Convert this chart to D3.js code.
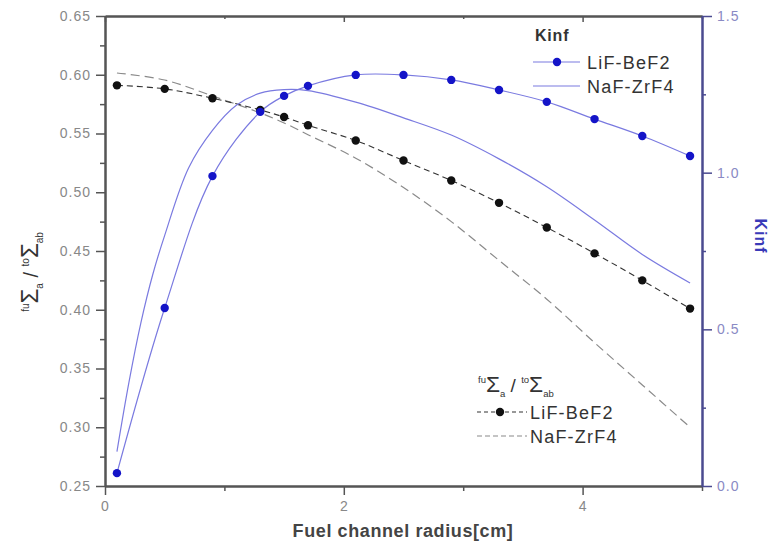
<!DOCTYPE html>
<html><head><meta charset="utf-8">
<script src="https://cdn.jsdelivr.net/npm/d3@7/dist/d3.min.js"></script>
<style>body{margin:0;background:#fff}svg{display:block}</style>
</head><body>
<svg id="c" width="771" height="557"></svg>
<script>
// ---- data ----
const radius = [0.1,0.5,0.9,1.3,1.5,1.7,2.1,2.5,2.9,3.3,3.7,4.1,4.5,4.9];
const sigmaLiF = [0.591,0.588,0.580,0.570,0.564,0.557,0.544,0.527,0.510,0.491,0.470,0.448,0.425,0.401];
const sigmaNaF = [0.6015,0.5955,0.582,0.5675,0.559,0.549,0.529,0.504,0.475,0.442,0.409,0.372,0.336,0.300];
const kinfLiF = [0.041,0.568,0.989,1.194,1.245,1.277,1.312,1.312,1.296,1.264,1.226,1.171,1.117,1.053];
const radiusNaFK = [0.1,0.2,0.3,0.4,0.5,0.7,0.9,1.1,1.3,1.5,1.7,2.1,2.5,2.9,3.3,3.7,4.1,4.5,4.9];
const kinfNaF = [0.11,0.33,0.52,0.675,0.80,1.015,1.135,1.215,1.254,1.265,1.262,1.225,1.175,1.12,1.044,0.955,0.849,0.739,0.648];
const xMajor = [0,2,4], xMinor = [1,3,5];
const yLMajor = [0.25,0.30,0.35,0.40,0.45,0.50,0.55,0.60,0.65];
const yLMinor = [0.275,0.325,0.375,0.425,0.475,0.525,0.575,0.625];
const yRMajor = [0,0.5,1.0,1.5], yRMinor = [0.25,0.75,1.25];
const seriesNames = ["LiF-BeF2","NaF-ZrF4"];

// ---- layout ----
const W=771,H=557, L=105, R=702, T=16, B=486;
const svg = d3.select("#c");
const x = d3.scaleLinear().domain([0,5]).range([L,R]);
const yL = d3.scaleLinear().domain([0.25,0.65]).range([B,T]);
const yR = d3.scaleLinear().domain([0,1.5]).range([B,T]);
const font = "Liberation Sans, Arial, sans-serif";
const axisCol = "#555", rightCol = "#4a4a90";
const blueLine = "#7a7ae0", blueDot = "#1414c8";

svg.append("defs").append("clipPath").attr("id","clip")
  .append("rect").attr("x",L).attr("y",T-6).attr("width",R-L).attr("height",B-T+6);

function styleAxis(g,col,labelCol){
  g.selectAll(".domain").attr("stroke",col).attr("stroke-width",2);
  g.selectAll(".tick line").attr("stroke",col).attr("stroke-width",1.5);
  g.selectAll(".tick text").attr("fill",labelCol).attr("font-family",font)
   .attr("font-size",14).attr("letter-spacing","1px");
}
// bottom
let g = svg.append("g").attr("transform",`translate(0,${B})`)
  .call(d3.axisBottom(x).tickValues(xMajor).tickFormat(d3.format("d")).tickSize(9).tickSizeOuter(0).tickPadding(6));
styleAxis(g,axisCol,"#888");
g = svg.append("g").attr("transform",`translate(0,${B})`)
  .call(d3.axisBottom(x).tickValues(xMinor).tickFormat("").tickSize(5).tickSizeOuter(0));
styleAxis(g,axisCol,"#888");
// top
g = svg.append("g").attr("transform",`translate(0,${T})`)
  .call(d3.axisTop(x).tickValues(xMajor).tickFormat("").tickSize(-6).tickSizeOuter(0));
styleAxis(g,axisCol,"#888");
g = svg.append("g").attr("transform",`translate(0,${T})`)
  .call(d3.axisTop(x).tickValues(xMinor).tickFormat("").tickSize(-3).tickSizeOuter(0));
styleAxis(g,axisCol,"#888");
// left
g = svg.append("g").attr("transform",`translate(${L},0)`)
  .call(d3.axisLeft(yL).tickValues(yLMajor).tickFormat(d3.format(".2f")).tickSize(9).tickSizeOuter(0).tickPadding(5));
styleAxis(g,axisCol,"#888");
g = svg.append("g").attr("transform",`translate(${L},0)`)
  .call(d3.axisLeft(yL).tickValues(yLMinor).tickFormat("").tickSize(5).tickSizeOuter(0));
styleAxis(g,axisCol,"#888");
// right
g = svg.append("g").attr("transform",`translate(${R},0)`)
  .call(d3.axisRight(yR).tickValues(yRMajor).tickFormat(d3.format(".1f")).tickSize(10).tickSizeOuter(0).tickPadding(5));
styleAxis(g,rightCol,"#8a8ac4");
g = svg.append("g").attr("transform",`translate(${R},0)`)
  .call(d3.axisRight(yR).tickValues(yRMinor).tickFormat("").tickSize(4).tickSizeOuter(0));
styleAxis(g,rightCol,"#8a8ac4");

// ---- lines ----
const plot = svg.append("g").attr("clip-path","url(#clip)");
const curve = d3.curveCatmullRom.alpha(0.5);
const lineL = d3.line().x(d=>x(d[0])).y(d=>yL(d[1])).curve(curve);
const lineR = d3.line().x(d=>x(d[0])).y(d=>yR(d[1])).curve(curve);
const sLiF = radius.map((r,i)=>[r,sigmaLiF[i]]);
const sNaF = radius.map((r,i)=>[r,sigmaNaF[i]]);
const kLiF = radius.map((r,i)=>[r,kinfLiF[i]]);
const kNaF = radiusNaFK.map((r,i)=>[r,kinfNaF[i]]);

plot.append("path").attr("d",lineL(sNaF)).attr("fill","none").attr("stroke","#8a8a8a")
  .attr("stroke-width",1.2).attr("stroke-dasharray","9,5");
plot.append("path").attr("d",lineL(sLiF)).attr("fill","none").attr("stroke","#333")
  .attr("stroke-width",1.1).attr("stroke-dasharray","6,4");
plot.append("path").attr("d",lineR(kNaF)).attr("fill","none").attr("stroke",blueLine).attr("stroke-width",1.2);
plot.append("path").attr("d",lineR(kLiF)).attr("fill","none").attr("stroke",blueLine).attr("stroke-width",1.2);
plot.selectAll(".dk").data(sLiF).join("circle").attr("cx",d=>x(d[0])).attr("cy",d=>yL(d[1]))
  .attr("r",4.2).attr("fill","#111");
plot.selectAll(".db").data(kLiF).join("circle").attr("cx",d=>x(d[0])).attr("cy",d=>yR(d[1]))
  .attr("r",4.2).attr("fill",blueDot);

// ---- titles ----
svg.append("text").attr("x",403).attr("y",537).attr("text-anchor","middle")
  .attr("font-family",font).attr("font-size",18).attr("font-weight","bold").attr("letter-spacing","0.6px")
  .attr("fill","#444").text("Fuel channel radius[cm]");
svg.append("text").attr("transform","translate(755,236) rotate(90)").attr("text-anchor","middle")
  .attr("font-family",font).attr("font-size",16).attr("font-weight","bold").attr("letter-spacing","1px")
  .attr("fill","#3a3ab8").text("Kinf");

function sigmaRatio(sel, size){
  const t = sel.append("text").attr("font-family",font).attr("fill","#333");
  const sup = s=>t.append("tspan").attr("font-size",size*0.5).attr("dy",-size*0.45).text(s);
  const sig = ()=>t.append("tspan").attr("font-size",size*1.2).attr("dy",size*0.45).text("Σ");
  const sub = s=>t.append("tspan").attr("font-size",size*0.5).attr("dy",size*0.25).text(s);
  const mid = s=>t.append("tspan").attr("font-size",size).attr("dy",-size*0.25).text(s);
  sup("fu"); sig(); sub("a"); mid(" / "); sup("to"); sig(); sub("ab");
  return t;
}
sigmaRatio(svg.append("g").attr("transform","translate(38,272) rotate(-90)"),20)
  .attr("text-anchor","middle");

// ---- legends ----
const lg = svg.append("g").attr("font-family",font).attr("font-size",18).attr("letter-spacing","1.2px").attr("fill","#333");
lg.append("text").attr("x",535).attr("y",41).attr("font-size",16).attr("font-weight","bold").attr("letter-spacing","0.8px").text("Kinf");
lg.append("line").attr("x1",533).attr("x2",580).attr("y1",62).attr("y2",62).attr("stroke",blueLine).attr("stroke-width",1.2);
lg.append("circle").attr("cx",557).attr("cy",62).attr("r",4.2).attr("fill",blueDot);
lg.append("text").attr("x",587).attr("y",68.5).text(seriesNames[0]);
lg.append("line").attr("x1",533).attr("x2",580).attr("y1",86).attr("y2",86).attr("stroke",blueLine).attr("stroke-width",1.2);
lg.append("text").attr("x",587).attr("y",92.5).text(seriesNames[1]);

sigmaRatio(svg.append("g").attr("transform","translate(478,392)"),19);
lg.append("line").attr("x1",477).attr("x2",527).attr("y1",412).attr("y2",412).attr("stroke","#333").attr("stroke-width",1.1).attr("stroke-dasharray","4,3");
lg.append("circle").attr("cx",500).attr("cy",412).attr("r",4.2).attr("fill","#111");
lg.append("text").attr("x",530).attr("y",418.5).text(seriesNames[0]);
lg.append("line").attr("x1",477).attr("x2",527).attr("y1",436).attr("y2",436).attr("stroke","#8a8a8a").attr("stroke-width",1.2).attr("stroke-dasharray","5,3");
lg.append("text").attr("x",530).attr("y",442.5).text(seriesNames[1]);
</script>
</body></html>
